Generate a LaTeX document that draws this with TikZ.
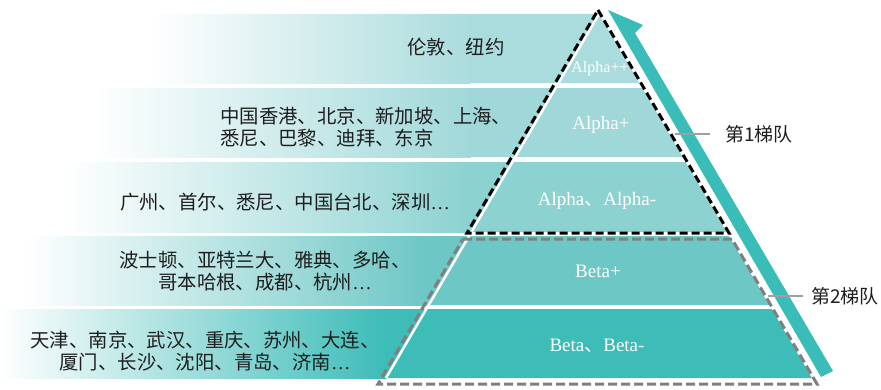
\documentclass[tikz,border=0pt]{standalone}
\usepackage{fontspec}
\setmainfont{Noto Sans CJK SC}
\newfontfamily\latserif{Liberation Serif}
\definecolor{cA}{HTML}{ABDCDD}
\definecolor{cB}{HTML}{A0D8D9}
\definecolor{cC}{HTML}{8CD2D1}
\definecolor{cD}{HTML}{6CC7C5}
\definecolor{cE}{HTML}{3DBCB8}
\definecolor{arrowteal}{HTML}{3ABDB9}
\definecolor{txt}{HTML}{1E1E1E}
\definecolor{dgray}{HTML}{7F7F7F}
\definecolor{leadgray}{HTML}{A0A0A0}
\begin{document}
\begin{tikzpicture}[x=1pt,y=-1pt,
  cityt/.style={text=txt, inner sep=0pt, font=\fontsize{19.4}{21.5}\selectfont},
  pyrl/.style={text=white, inner sep=0pt, anchor=base, font=\latserif\fontsize{19}{21}\selectfont},
  tiert/.style={text=txt, inner sep=0pt, anchor=west, font=\fontsize{19}{21}\selectfont},
  blackdash/.style={draw=black, line width=3pt, dash pattern=on 8pt off 4pt, line join=miter},
  graydash/.style={draw=dgray, line width=3pt, dash pattern=on 9pt off 4pt, line join=miter},
  leader/.style={draw=leadgray, line width=1.5pt}]
\useasboundingbox (0,0) rectangle (881,389);
% band 1
\shade[left color=white, right color=cA] (150,14) rectangle (470.5,83);
\fill[cA] (470,14) -- (599,14) -- (639.4,83) -- (470,83) -- cycle;
% band 2
\shade[left color=white, right color=cB] (95,88) rectangle (470.5,157);
\fill[cB] (470,88) -- (642.3,88) -- (682.7,157) -- (470,157) -- cycle;
% band 3
\shade[left color=white, right color=cC] (65,162) rectangle (470.5,232);
\fill[cC] (470,162) -- (685.6,162) -- (726.5,232) -- (470,232) -- cycle;
% band 4
\shade[left color=white, right color=cD] (25,236) rectangle (429.3,305);
\fill[cD] (428.8,236) -- (728.9,236) -- (769.2,305) -- (428.8,305) -- cycle;
% band 5
\shade[left color=white, right color=cE] (0,309) rectangle (386.5,378);
\fill[cE] (386,309) -- (771.6,309) -- (811.9,378) -- (386,378) -- cycle;
% white left edge of the pyramid
\draw[white, line width=2.5pt] (599,14) -- (386,378);
% tier outlines
\draw[blackdash] (598,10) -- (729,233) -- (467,233) -- cycle;
\draw[graydash] (463,239) -- (732,239) -- (817,384) -- (378,384) -- cycle;
% arrow
\fill[arrowteal] (608,10) -- (643,25) -- (635,33) -- (833,371) -- (821,377) -- cycle;
% pyramid labels
\node[pyrl, font=\latserif\fontsize{16}{18}\selectfont] (p1) at (600,72) {Alpha++};
\node[pyrl] (p2) at (601,129) {Alpha+};
\node[pyrl] (p3) at (597,205) {Alpha{\rmfamily 、}Alpha-};
\node[pyrl] (p4) at (598,277) {Beta+};
\node[pyrl] (p5) at (597,351) {Beta{\rmfamily 、}Beta-};
% city texts
\node[cityt] (n1) at (456,47) {伦敦、纽约};
\node[cityt, anchor=west, align=left] (n2) at (220,127) {中国香港、北京、新加坡、上海、\\悉尼、巴黎、迪拜、东京};
\node[cityt] (n3) at (285,202) {广州、首尔、悉尼、中国台北、深圳{\latserif …}};
\node[cityt, align=center] (n4) at (265,271) {波士顿、亚特兰大、雅典、多哈、\\哥本哈根、成都、杭州{\latserif …}};
\node[cityt, align=center] (n5) at (205,351) {天津、南京、武汉、重庆、苏州、大连、\\厦门、长沙、沈阳、青岛、济南{\latserif …}};
% tier labels
\coordinate (l1) at (675,134);
\node[tiert] (t1) at (725,134) {第1梯队};
\draw[leader, shorten >=15pt] (l1) -- (t1.west);
\coordinate (l2) at (768,296);
\node[tiert] (t2) at (811,296) {第2梯队};
\draw[leader, shorten >=8pt] (l2) -- (t2.west);
\end{tikzpicture}
\end{document}
